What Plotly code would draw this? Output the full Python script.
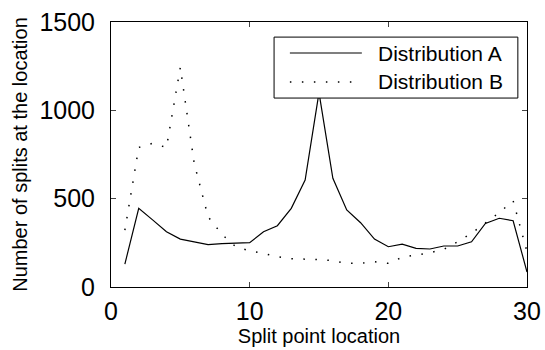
import plotly.graph_objects as go

x_loc = list(range(1, 31))
dist_a = [130, 445, 380, 313, 271, 256, 240, 245, 247, 251, 313, 347, 445, 605, 1100,
          615, 436, 364, 271, 228, 243, 219, 215, 232, 232, 256, 360, 389, 375, 85]
dist_b = [322, 790, 813, 790, 1243, 700, 398, 298, 228, 204, 190, 172, 160, 158, 155,
          149, 134, 134, 143, 134, 168, 181, 194, 213, 256, 304, 364, 421, 488, 200]
series_names = ["Distribution A", "Distribution B"]
x_ticks = [0, 10, 20, 30]
y_ticks = [0, 500, 1000, 1500]

font = "Liberation Sans, Arial, sans-serif"
styles = [dict(color="black", width=1.2),
          dict(color="black", width=1.5, dash="1.5px,10.5px")]

fig = go.Figure()
for name, vals, st in zip(series_names, [dist_a, dist_b], styles):
    fig.add_trace(go.Scatter(x=x_loc, y=vals, mode="lines", name=name,
                             line=st, showlegend=False))

# legend box drawn in paper coordinates (MATLAB-style legend)
box = dict(x0=0.392, x1=0.978, y0=0.713, y1=0.943)
fig.add_shape(type="rect", xref="paper", yref="paper", layer="above",
              fillcolor="white", line=dict(color="black", width=1), **box)
rows_y = [0.883, 0.774]
for name, st, ry in zip(series_names, styles, rows_y):
    fig.add_shape(type="line", xref="paper", yref="paper", layer="above",
                  x0=0.430, x1=0.603, y0=ry, y1=ry, line=st)
    fig.add_annotation(xref="paper", yref="paper", x=0.637, y=ry, text=name,
                       showarrow=False, xanchor="left", yanchor="middle",
                       font=dict(size=21, family=font, color="black"))

fig.update_layout(
    width=545, height=350,
    margin=dict(l=111, r=18, t=22, b=63, autoexpand=False),
    paper_bgcolor="white", plot_bgcolor="white",
    font=dict(family=font, color="black"),
    showlegend=False,
    xaxis=dict(range=[0, 30], tickvals=x_ticks, ticks="inside", ticklen=5,
               showline=True, linecolor="black", linewidth=1, mirror="allticks",
               showgrid=False, zeroline=False, tickfont=dict(size=25),
               ticklabelstandoff=2, automargin=False,
               title=dict(text="Split point location", font=dict(size=20), standoff=4)),
    yaxis=dict(range=[0, 1500], tickvals=y_ticks, ticks="inside", ticklen=5,
               showline=True, linecolor="black", linewidth=1, mirror="allticks",
               showgrid=False, zeroline=False, tickfont=dict(size=25),
               ticklabelstandoff=10, automargin=False,
               title=dict(text="Number of splits at the location", font=dict(size=20), standoff=6)),
)

fig.write_html("out.html")
